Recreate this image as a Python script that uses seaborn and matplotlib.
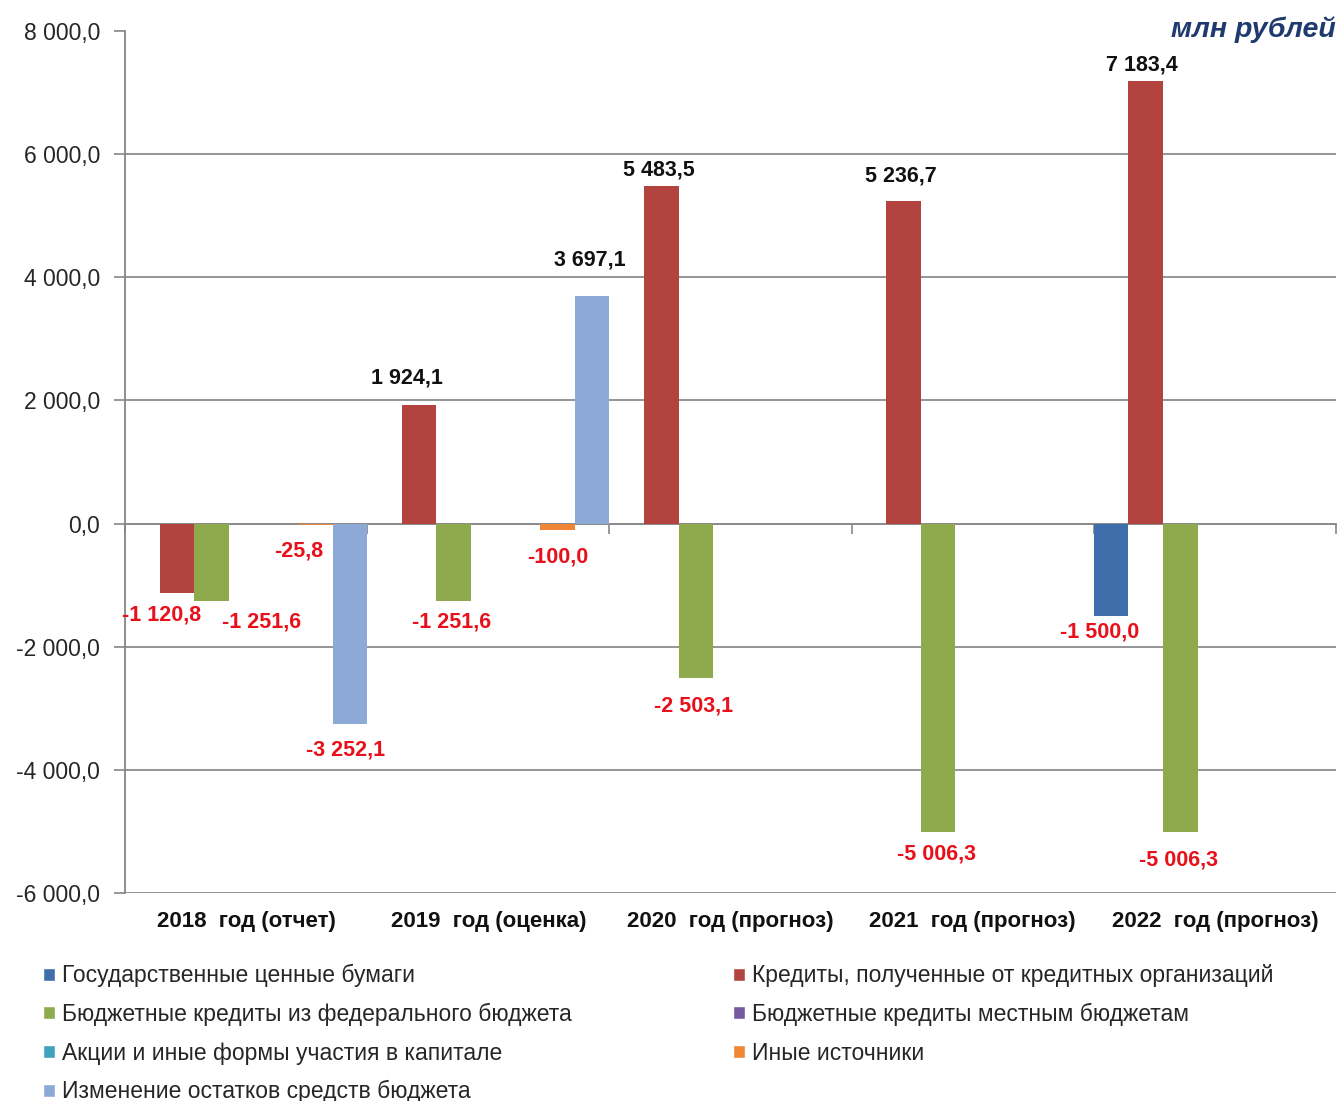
import numpy as np
import pandas as pd
import matplotlib
matplotlib.use("Agg")
import matplotlib.pyplot as plt
import matplotlib.transforms as mtransforms
from matplotlib.patches import Patch
import seaborn as sns

# ---- data (млн рублей) ----
years = ["2018  год (отчет)", "2019  год (оценка)", "2020  год (прогноз)",
         "2021  год (прогноз)", "2022  год (прогноз)"]
series = ["Государственные ценные бумаги",
          "Кредиты, полученные от кредитных организаций",
          "Бюджетные кредиты из федерального бюджета",
          "Бюджетные кредиты местным бюджетам",
          "Акции и иные формы участия в капитале",
          "Иные источники",
          "Изменение остатков средств бюджета"]
gos_bumagi = [0.0, 0.0, 0.0, 0.0, -1500.0]
kredity_org = [-1120.8, 1924.1, 5483.5, 5236.7, 7183.4]
fed_kredity = [-1251.6, -1251.6, -2503.1, -5006.3, -5006.3]
mest_kredity = [0.0, 0.0, 0.0, 0.0, 0.0]
akcii = [0.0, 0.0, 0.0, 0.0, 0.0]
inye = [-25.8, -100.0, 0.0, 0.0, 0.0]
ostatki = [-3252.1, 3697.1, 0.0, 0.0, 0.0]

values = [gos_bumagi, kredity_org, fed_kredity, mest_kredity, akcii, inye, ostatki]
colors = ["#3F6EAA", "#B2433F", "#8FAA4C", "#7459A0", "#3FA3BF", "#EE8636", "#8DA9D6"]

df = pd.DataFrame([(y, s, v[i]) for s, v in zip(series, values)
                   for i, y in enumerate(years)], columns=["year", "series", "value"])

# label nudges in pixels (dx, dy from bar end), copied from the layout of the original
nudges = {
    (1, 0): (-15, -22), (2, 0): (50, -21), (5, 0): (-17, -26), (6, 0): (-4, -26),
    (1, 1): (-12, 27), (2, 1): (-2, -21), (5, 1): (0, -27), (6, 1): (-2, 36),
    (1, 2): (-2, 16), (2, 2): (-2, -28),
    (1, 3): (-3, 25), (2, 3): (-2, -22),
    (0, 4): (-11, -16), (1, 4): (-4, 16), (2, 4): (-2, -28),
}

FONTS = ["Liberation Sans Narrow", "Liberation Sans", "DejaVu Sans"]
sns.set_theme(style="white")
plt.rcParams["font.family"] = FONTS

W, H = 1341, 1101
fig = plt.figure(figsize=(W / 100, H / 100), dpi=100, facecolor="white")
ax = fig.add_axes([125 / W, 1 - 893 / H, (1336 - 125) / W, (893 - 31) / H])

sns.barplot(data=df, x="year", y="value", hue="series", hue_order=series,
            palette=colors, width=1.0, gap=0, linewidth=0, errorbar=None,
            legend=False, ax=ax, saturation=1)

ax.set_ylim(-6000, 8000)
ax.set_xlim(-0.5, len(years) - 0.5)
ax.set_yticks(np.arange(-6000, 8001, 2000))


def fmt(v, pos=None):
    s = f"{abs(v):,.1f}".replace(",", " ").replace(".", ",")
    return ("-" if v < 0 else "") + s


ax.yaxis.set_major_formatter(plt.FuncFormatter(fmt))
ax.tick_params(axis="y", which="major", direction="out", length=8, width=1.2,
               color="#868686", labelsize=16.5, labelcolor="#262626", pad=10, left=True)
ax.set_xlabel("")
ax.set_ylabel("")

# grid lines (none at the top)
ax.grid(axis="y", color="#8C8C8C", linewidth=1.3)
ax.set_axisbelow(True)
ax.get_ygridlines()[-1].set_visible(False)

for side in ["top", "right"]:
    ax.spines[side].set_visible(False)
ax.spines["left"].set_color("#868686")
ax.spines["left"].set_linewidth(1.3)
# horizontal axis crosses at zero, ticks between categories
ax.spines["bottom"].set_position(("data", 0))
ax.spines["bottom"].set_color("#868686")
ax.spines["bottom"].set_linewidth(1.3)
ax.spines["bottom"].set_zorder(0.5)
ax.set_xticks(np.arange(len(years) + 1) - 0.5)
ax.set_xticklabels([])
ax.tick_params(axis="x", direction="out", length=7, width=1.2, color="#868686",
               bottom=True)

# category labels along the bottom
trans = mtransforms.blended_transform_factory(ax.transData, ax.transAxes)
for i, name in enumerate(years):
    ax.annotate(name, (i, 0), xycoords=trans, xytext=(0, -28),
                textcoords="offset pixels", ha="center", va="center",
                fontsize=16, fontweight="bold", color="#111111")

# value labels
for s_idx, cont in enumerate(ax.containers):
    for c_idx, bar in enumerate(cont):
        v = values[s_idx][c_idx]
        if v == 0:
            continue
        dx, dy = nudges.get((s_idx, c_idx), (0, 18 if v > 0 else -24))
        ax.annotate(fmt(v), (bar.get_x() + bar.get_width() / 2, v),
                    xytext=(dx, dy), textcoords="offset pixels",
                    ha="center", va="center", fontsize=15.5, fontweight="bold",
                    color="#111111" if v > 0 else "#E8101A", zorder=5)

fig.text(1336 / W, 1 - 30 / H, "млн рублей", ha="right", va="center",
         fontsize=20.5, fontweight="bold", fontstyle="italic", color="#1F3A6E",
         family=["Liberation Sans", "DejaVu Sans"])

# legend in two columns, filled row by row
handles = [Patch(facecolor=c, label=s) for c, s in zip(colors, series)]
leg_kw = dict(frameon=False, fontsize=16.5, handlelength=0.5, handleheight=0.5,
              handletextpad=0.3, labelspacing=0.68, borderaxespad=0,
              labelcolor="#262626")
leg1 = fig.legend(handles=handles[0::2], loc="upper left",
                  bbox_to_anchor=(34 / W, 1 - 955 / H), **leg_kw)
leg2 = fig.legend(handles=handles[1::2], loc="upper left",
                  bbox_to_anchor=(724 / W, 1 - 955 / H), **leg_kw)

fig.savefig("out.png", dpi=100, facecolor="white")
